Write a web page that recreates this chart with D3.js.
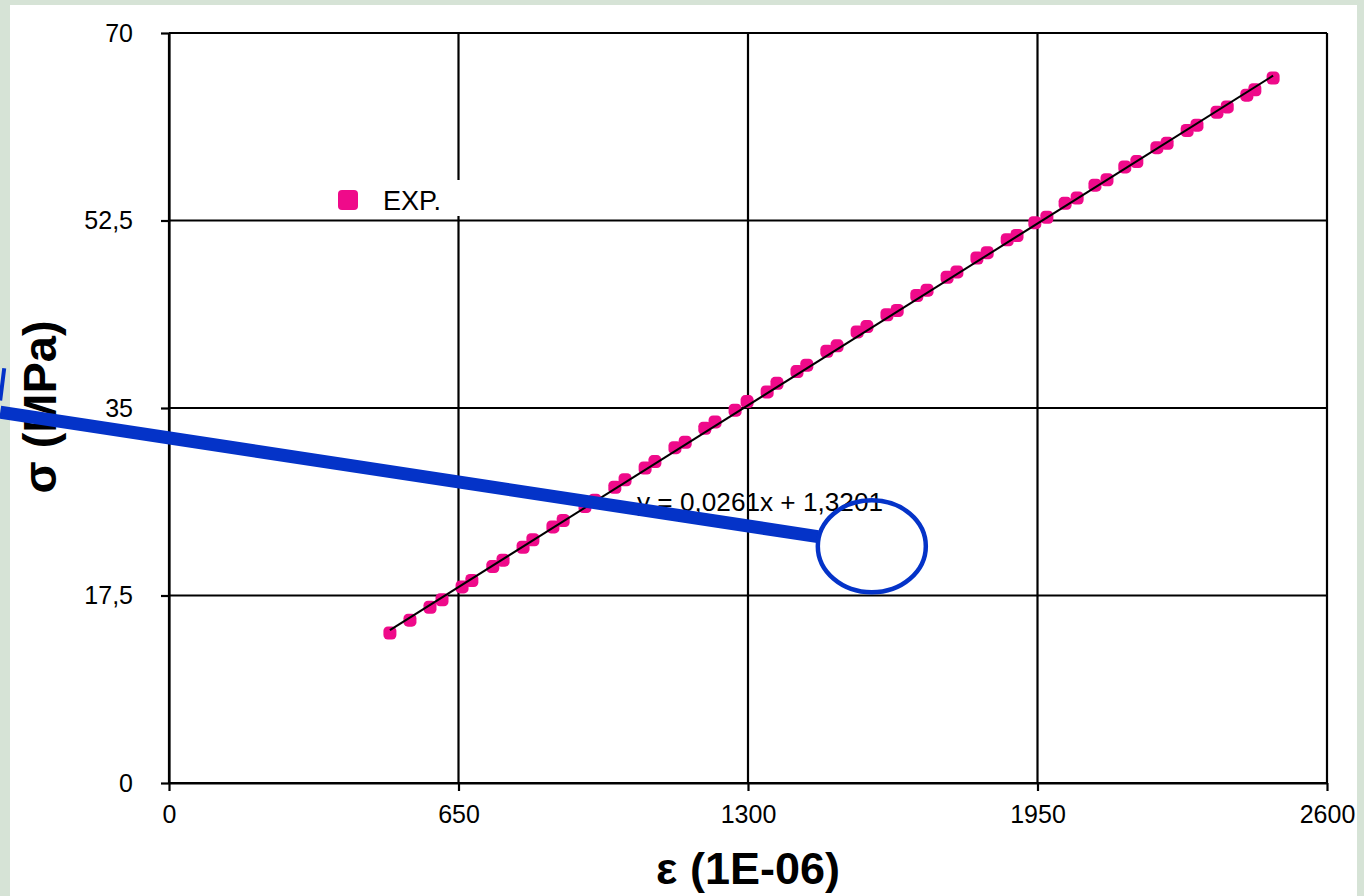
<!DOCTYPE html>
<html>
<head>
<meta charset="utf-8">
<script src="https://cdn.jsdelivr.net/npm/d3@7"></script>
<style>
  html, body { margin: 0; padding: 0; background: #d6e3d6; }
  svg { display: block; }
  text { font-family: "Liberation Sans", Arial, sans-serif; }
</style>
</head>
<body>
<svg id="chart" width="1364" height="896"></svg>
<script>
// ---- data ----
const strainData = [496, 541, 586, 613, 658, 680, 727, 750, 795, 817, 862, 885, 934, 956,
  1001, 1024, 1069, 1091, 1136, 1159, 1203, 1226, 1271, 1298, 1343, 1365, 1410, 1432,
  1477, 1500, 1545, 1567, 1612, 1635, 1679, 1702, 1747, 1769, 1814, 1837, 1882, 1904,
  1944, 1971, 2012, 2039, 2079, 2106, 2146, 2173, 2218, 2241, 2286, 2308, 2353, 2376,
  2420, 2438, 2479];
const stressData = [14.0, 15.2, 16.4, 17.1, 18.3, 18.9, 20.2, 20.8, 22.0, 22.7, 23.9, 24.5, 25.8, 26.4,
  27.6, 28.3, 29.4, 30.0, 31.3, 31.8, 33.1, 33.7, 34.8, 35.6, 36.5, 37.3, 38.4, 39.0,
  40.3, 40.8, 42.1, 42.6, 43.7, 44.1, 45.5, 46.0, 47.2, 47.7, 49.0, 49.5, 50.7, 51.1,
  52.3, 52.8, 54.1, 54.6, 55.8, 56.3, 57.5, 58.0, 59.3, 59.7, 60.9, 61.4, 62.6, 63.1,
  64.2, 64.7, 65.8];
const trendSlope = 0.0261;
const trendIntercept = 1.3201;
const trendLabel = "y = 0,0261x + 1,3201";
const seriesName = "EXP.";
const xTickValues = [0, 650, 1300, 1950, 2600];
const xTickLabels = ["0", "650", "1300", "1950", "2600"];
const yTickValues = [0, 17.5, 35, 52.5, 70];
const yTickLabels = ["0", "17,5", "35", "52,5", "70"];
const xTitle = "ε (1E-06)";
const yTitle = "σ (MPa)";
// annotation (blue pen marks) in data units
const annoLine = [[-379, 34.6], [1457, 23.0]];
const annoStroke = [[-370, 38.7], [-379, 35.7]];
const annoEllipse = { cx: 1578, cy: 22.1, rx: 54, ry: 46 };

(function () {
// ---- layout ----
const svg = d3.select("#chart");
const W = 1364, H = 896;
const pLeft = 169, pRight = 1327, pTop = 33, pBottom = 783;
const x = d3.scaleLinear().domain([0, 2600]).range([pLeft, pRight]);
const y = d3.scaleLinear().domain([0, 70]).range([pBottom, pTop]);

svg.append("rect").attr("x", 0).attr("y", 0).attr("width", W).attr("height", H).attr("fill", "#d6e3d6");
svg.append("rect").attr("x", 10).attr("y", 5).attr("width", 1347).attr("height", H).attr("fill", "#ffffff");

// gridlines
const grid = svg.append("g").attr("stroke", "#000").attr("stroke-width", 2.2);
grid.selectAll("line.v").data(xTickValues).join("line").attr("class", "v")
  .attr("x1", d => x(d)).attr("x2", d => x(d)).attr("y1", pTop).attr("y2", pBottom);
grid.selectAll("line.h").data(yTickValues).join("line").attr("class", "h")
  .attr("x1", pLeft).attr("x2", pRight).attr("y1", d => y(d)).attr("y2", d => y(d));

// axes
const xAxis = d3.axisBottom(x).tickValues(xTickValues)
  .tickFormat((d, i) => xTickLabels[i]).tickSizeInner(8).tickSizeOuter(0).tickPadding(14);
const yAxis = d3.axisLeft(y).tickValues(yTickValues)
  .tickFormat((d, i) => yTickLabels[i]).tickSizeInner(8).tickSizeOuter(0).tickPadding(28);
const gx = svg.append("g").attr("transform", `translate(0,${pBottom})`).call(xAxis);
const gy = svg.append("g").attr("transform", `translate(${pLeft},0)`).call(yAxis);
[gx, gy].forEach(g => {
  g.select(".domain").attr("stroke", "#000").attr("stroke-width", 2.2);
  g.selectAll(".tick line").attr("stroke", "#000").attr("stroke-width", 2.2);
  g.selectAll(".tick text").attr("fill", "#000").attr("font-size", 25)
    .attr("font-family", "'Liberation Sans', Arial, sans-serif");
});

// markers
const pts = strainData.map((d, i) => ({ e: d, s: stressData[i] }));
const ms = 13;
svg.append("g").selectAll("rect").data(pts).join("rect")
  .attr("x", d => x(d.e) - ms / 2).attr("y", d => y(d.s) - ms / 2)
  .attr("width", ms).attr("height", ms).attr("rx", 4.5)
  .attr("fill", "#ef0a8a");

// trendline
const x0 = d3.min(strainData), x1 = d3.max(strainData);
const trend = d3.line().x(d => x(d)).y(d => y(trendSlope * d + trendIntercept));
svg.append("path").datum([x0, x1]).attr("d", trend)
  .attr("stroke", "#000").attr("stroke-width", 2).attr("fill", "none");

// legend
svg.append("rect").attr("x", 330).attr("y", 180).attr("width", 132).attr("height", 36).attr("fill", "#fff");
svg.append("rect").attr("x", 338).attr("y", 190).attr("width", 20).attr("height", 20).attr("rx", 4)
  .attr("fill", "#ef0a8a");
svg.append("text").attr("x", 383).attr("y", 210).attr("font-size", 27).attr("fill", "#000").text(seriesName);

// equation label
svg.append("text").attr("x", 637).attr("y", 511).attr("font-size", 26).attr("fill", "#000")
  .attr("textLength", 246).attr("lengthAdjust", "spacingAndGlyphs").text(trendLabel);

// axis titles
svg.append("text").attr("x", (pLeft + pRight) / 2).attr("y", 884).attr("text-anchor", "middle")
  .attr("font-size", 45).attr("font-weight", "bold").attr("fill", "#000").text(xTitle);
svg.append("text").attr("transform", `translate(56,407) rotate(-90)`).attr("text-anchor", "middle")
  .attr("font-size", 47).attr("font-weight", "bold").attr("fill", "#000").text(yTitle);

// blue annotations
const blue = "#0433c8";
svg.append("path").datum(annoLine).attr("d", d3.line().x(d => x(d[0])).y(d => y(d[1])))
  .attr("stroke", blue).attr("stroke-width", 13).attr("fill", "none");
svg.append("path").datum(annoStroke).attr("d", d3.line().x(d => x(d[0])).y(d => y(d[1])))
  .attr("stroke", blue).attr("stroke-width", 4).attr("fill", "none");
svg.append("ellipse").attr("cx", x(annoEllipse.cx)).attr("cy", y(annoEllipse.cy))
  .attr("rx", annoEllipse.rx).attr("ry", annoEllipse.ry)
  .attr("stroke", blue).attr("stroke-width", 4.5).attr("fill", "none");
})();
</script>
</body>
</html>
